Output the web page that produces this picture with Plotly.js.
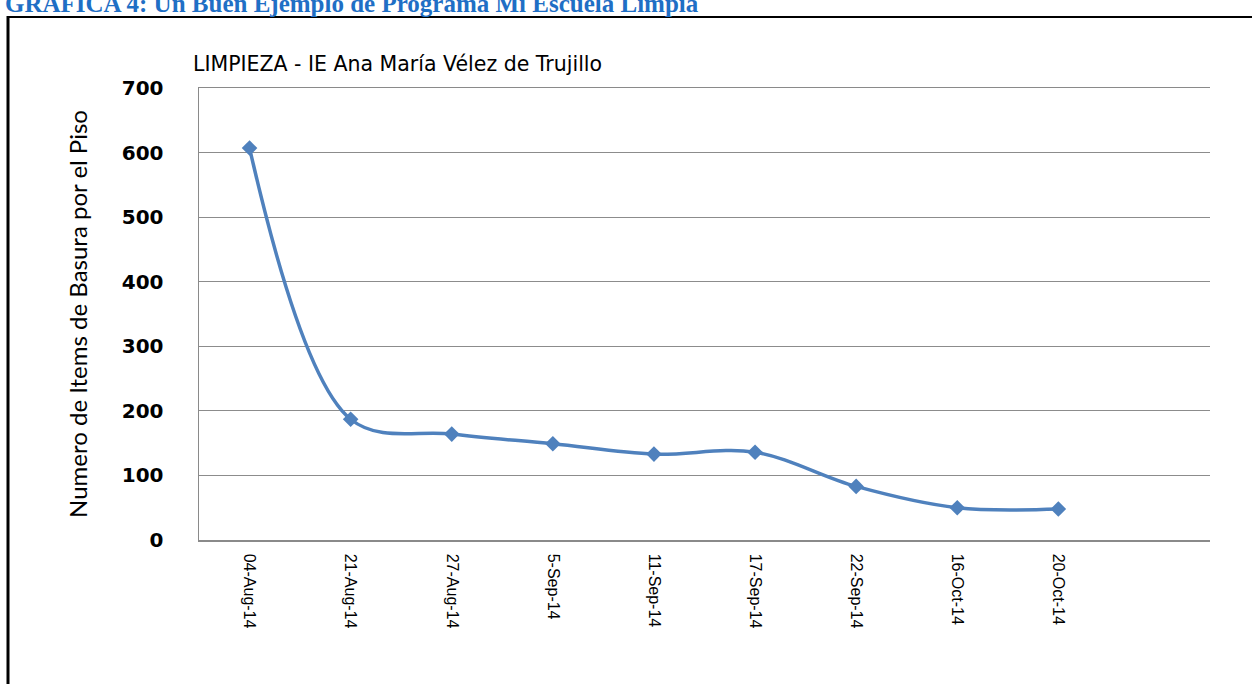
<!DOCTYPE html>
<html>
<head>
<meta charset="utf-8">
<script src="https://cdn.plot.ly/plotly-3.0.1.min.js"></script>
<style>
html,body{margin:0;padding:0;background:#fff;}
#chart{width:1252px;height:684px;}
</style>
</head>
<body>
<div id="chart"></div>
<script>
const dates = ["04-Aug-14","21-Aug-14","27-Aug-14","5-Sep-14","11-Sep-14","17-Sep-14","22-Sep-14","16-Oct-14","20-Oct-14"];
const items = [607, 187, 164, 149, 133, 136, 83, 50, 48];
const yTicks = [0, 100, 200, 300, 400, 500, 600, 700];
const chartTitle = "LIMPIEZA - IE Ana María Vélez de Trujillo";
const yTitle = "Numero de Items de Basura por el Piso";
const pageHeader = "GRAFICA 4: Un Buen Ejemplo de Programa Mi Escuela Limpia";

const L = 199, R = 1210, T = 88, B = 540, W = 1252, H = 684;
const px = x => (x - L) / (R - L);
const py = y => (B - y) / (B - T);

const trace = {
  x: dates,
  y: items,
  type: "scatter",
  mode: "lines+markers",
  line: {color: "#4F81BD", width: 3.5, shape: "spline", smoothing: 1},
  marker: {symbol: "diamond", size: 12, color: "#4F81BD"},
  hoverinfo: "skip"
};

const layout = {
  width: W, height: H,
  margin: {l: L, r: W - R, t: T, b: H - B, pad: 0},
  paper_bgcolor: "#ffffff",
  plot_bgcolor: "#ffffff",
  showlegend: false,
  title: {
    text: chartTitle,
    font: {family: "DejaVu Sans, Verdana, sans-serif", size: 20.5, color: "#000000"},
    xref: "container", yref: "container",
    x: 193 / W, xanchor: "left",
    y: 1 - 64 / H, yanchor: "middle"
  },
  xaxis: {
    type: "category",
    categoryarray: dates,
    range: [-0.5, 9.5],
    tickangle: 90,
    tickfont: {family: "Liberation Sans, Arial, sans-serif", size: 16, color: "#000000"},
    showgrid: false,
    showline: true,
    mirror: true,
    linecolor: "#8a8a8a",
    linewidth: 1.5,
    ticks: "",
    ticklabelstandoff: 9,
    zeroline: false,
    fixedrange: true
  },
  yaxis: {
    range: [0, 700],
    tickvals: yTicks,
    ticktext: yTicks.map(String),
    tickfont: {family: "DejaVu Sans, Verdana, sans-serif", size: 20, color: "#000000", weight: "bold"},
    showgrid: true,
    gridcolor: "#8c8c8c",
    gridwidth: 1,
    showline: true,
    linecolor: "#8a8a8a",
    linewidth: 1.5,
    zeroline: false,
    ticks: "",
    ticklabelstandoff: 30,
    title: {
      text: yTitle,
      font: {family: "Lato, Carlito, sans-serif", size: 24, color: "#000000"},
      standoff: 27
    },
    fixedrange: true
  },
  annotations: [
    {
      text: "<b>" + pageHeader + "</b>",
      xref: "paper", yref: "paper",
      x: px(3), y: py(4),
      xanchor: "left", yanchor: "middle",
      showarrow: false,
      font: {family: "Liberation Serif, Times New Roman, serif", size: 25, color: "#1F6FC5"}
    }
  ],
  shapes: [
    {type: "line", xref: "paper", yref: "paper", x0: px(8), x1: px(1260), y0: py(17), y1: py(17),
     line: {color: "#000000", width: 2}},
    {type: "line", xref: "paper", yref: "paper", x0: px(8), x1: px(8), y0: py(16), y1: py(700),
     line: {color: "#000000", width: 3}}
  ]
};

Plotly.newPlot("chart", [trace], layout, {displayModeBar: false, staticPlot: true});
</script>
</body>
</html>
